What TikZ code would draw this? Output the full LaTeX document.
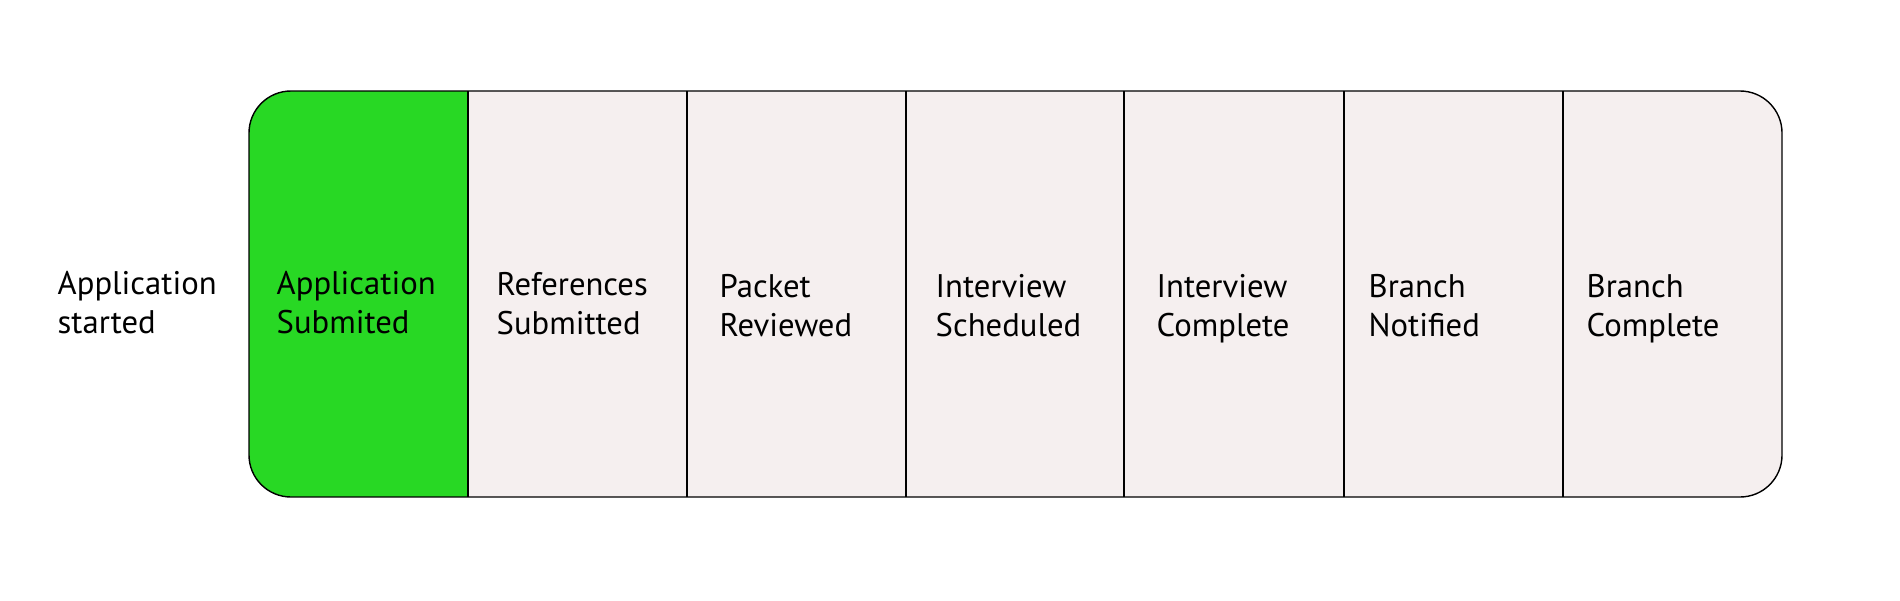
\documentclass[tikz,border=0pt]{standalone}
\usepackage{fontspec}
\setmainfont{PT Sans}
\definecolor{stagegreen}{RGB}{40,216,36}
\definecolor{stagegray}{RGB}{245,239,239}
\tikzset{stagetext/.style={anchor=base west, align=left, inner sep=0pt, font=\fontsize{9.3}{11}\selectfont}}
\begin{document}
\begin{tikzpicture}
            \useasboundingbox (0,0) rectangle (19,6);
            \fill[stagegray, rounded corners=0.42cm] (2.49,1.03) rectangle (17.82,5.09);
            \begin{scope}
                \clip[rounded corners=0.42cm] (2.49,1.03) rectangle (17.82,5.09);
                \fill[stagegreen] (2.49,1.03) rectangle (4.68,5.09);
            \end{scope}
            \foreach \x in {4.68,6.87,9.06,11.24,13.44,15.63}
                \draw[line width=0.6pt] (\x,1.03) -- (\x,5.09);
            \draw[line width=0.4pt, rounded corners=0.42cm] (2.49,1.03) rectangle (17.82,5.09);

            \node[stagetext] (started) at (0.57,2.67) {Application\\started};
            \node[stagetext] (submitted) at (2.76,2.67) {Application\\Submited};
            \node[stagetext] (refs) at (4.96,2.66) {References\\Submitted};
            \node[stagetext] (packet) at (7.19,2.64) {Packet\\Reviewed};
            \node[stagetext] (scheduled) at (9.35,2.64) {Interview\\Scheduled};
            \node[stagetext] (complete) at (11.56,2.64) {Interview\\Complete};
            \node[stagetext] (notified) at (13.68,2.64) {Branch\\Notified};
            \node[stagetext] (branchdone) at (15.86,2.64) {Branch\\Complete};
        \end{tikzpicture}
\end{document}
